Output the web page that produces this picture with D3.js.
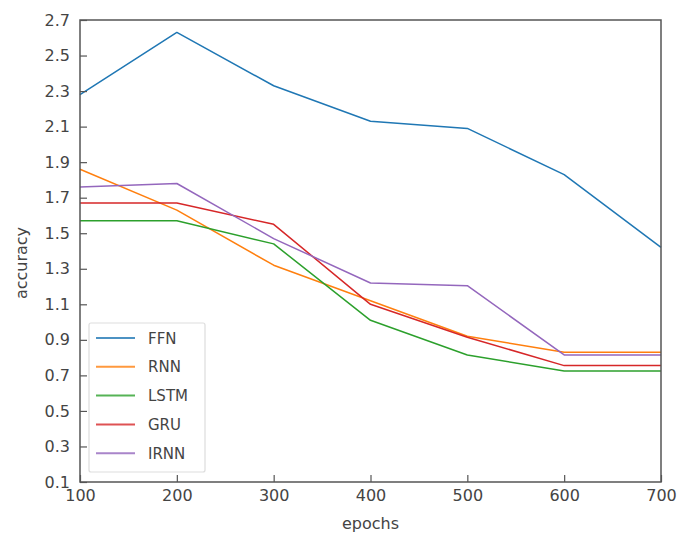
<!DOCTYPE html>
<html><head><meta charset="utf-8">
<script src="https://cdn.jsdelivr.net/npm/d3@7"></script>
<style>body{margin:0;background:#fff;} text{font-family:"DejaVu Sans",sans-serif;}</style>
</head><body><svg id="c" width="681" height="535"></svg>
<script>
const epochs = [100, 200, 300, 400, 500, 600, 700];
const seriesNames = ["FFN", "RNN", "LSTM", "GRU", "IRNN"];
const ffn  = [2.28, 2.63, 2.33, 2.13, 2.09, 1.83, 1.42];
const rnn  = [1.86, 1.63, 1.32, 1.12, 0.92, 0.83, 0.83];
const lstm = [1.57, 1.57, 1.44, 1.01, 0.815, 0.725, 0.725];
const gru  = [1.67, 1.67, 1.55, 1.10, 0.915, 0.755, 0.755];
const irnn = [1.76, 1.78, 1.47, 1.22, 1.205, 0.815, 0.815];
const colors = ["#1f77b4", "#ff7f0e", "#2ca02c", "#d62728", "#9467bd"];
const yTicks = [0.1,0.3,0.5,0.7,0.9,1.1,1.3,1.5,1.7,1.9,2.1,2.3,2.5,2.7];
const xTicks = [100,200,300,400,500,600,700];

const allSeries = [ffn, rnn, lstm, gru, irnn];
const svg = d3.select("#c");
const L = 80, R = 661, T = 20, B = 482;
const x = d3.scaleLinear().domain([100, 700]).range([L, R]);
const y = d3.scaleLinear().domain([0.1, 2.7]).range([B, T]);
const txt = "#444";

const g = svg.append("g");
const line = d3.line().x((d, i) => x(epochs[i])).y(d => y(d));
allSeries.forEach((s, k) => {
  g.append("path").datum(s).attr("d", line).attr("fill", "none")
    .attr("stroke", colors[k]).attr("stroke-width", 1.5).attr("stroke-linejoin", "round");
});

// frame
svg.append("rect").attr("x", L).attr("y", T).attr("width", R - L).attr("height", B - T)
  .attr("fill", "none").attr("stroke", "#555").attr("stroke-width", 1.5);

// x axis
const xMinor = d3.range(100, 701, 20);
const xa = svg.append("g").attr("transform", `translate(0,${B})`);
xa.call(d3.axisBottom(x).tickValues(xMinor).tickSize(-4.5).tickFormat(""));
xa.call(d3.axisBottom(x).tickValues(xTicks).tickSize(-7).tickPadding(8).tickFormat(d3.format("d")));
xa.select(".domain").remove();
xa.selectAll("line").attr("stroke", "#555").attr("stroke-width", 1.2);
xa.selectAll("text").attr("font-size", 16).attr("fill", txt);

// y axis
const yMinor = d3.range(0, 66).map(i => 0.1 + i * 0.04);
const ya = svg.append("g").attr("transform", `translate(${L},0)`);
ya.call(d3.axisLeft(y).tickValues(yMinor).tickSize(-4.5).tickFormat(""));
ya.call(d3.axisLeft(y).tickValues(yTicks).tickSize(-7).tickPadding(10).tickFormat(d3.format(".1f")));
ya.select(".domain").remove();
ya.selectAll("line").attr("stroke", "#555").attr("stroke-width", 1.2);
ya.selectAll("text").attr("font-size", 16).attr("fill", txt);

// labels
svg.append("text").attr("x", (L + R) / 2).attr("y", 529).attr("text-anchor", "middle")
  .attr("font-size", 16).attr("fill", txt).text("epochs");
svg.append("text").attr("transform", `translate(27,263) rotate(-90)`)
  .attr("text-anchor", "middle").attr("font-size", 16).attr("fill", txt).text("accuracy");

// legend
const lg = svg.append("g");
lg.append("rect").attr("x", 89).attr("y", 323).attr("width", 116).attr("height", 149)
  .attr("rx", 2).attr("fill", "#fff").attr("fill-opacity", 0.8).attr("stroke", "#ddd").attr("stroke-width", 1.2);
seriesNames.forEach((n, k) => {
  const yy = 338 + k * 28.8;
  lg.append("line").attr("x1", 96).attr("x2", 135).attr("y1", yy).attr("y2", yy)
    .attr("stroke", colors[k]).attr("stroke-width", 2).attr("stroke-opacity", 0.8);
  lg.append("text").attr("x", 148).attr("y", yy + 5.5).attr("font-size", 15)
    .attr("fill", txt).text(n);
});
</script></body></html>
